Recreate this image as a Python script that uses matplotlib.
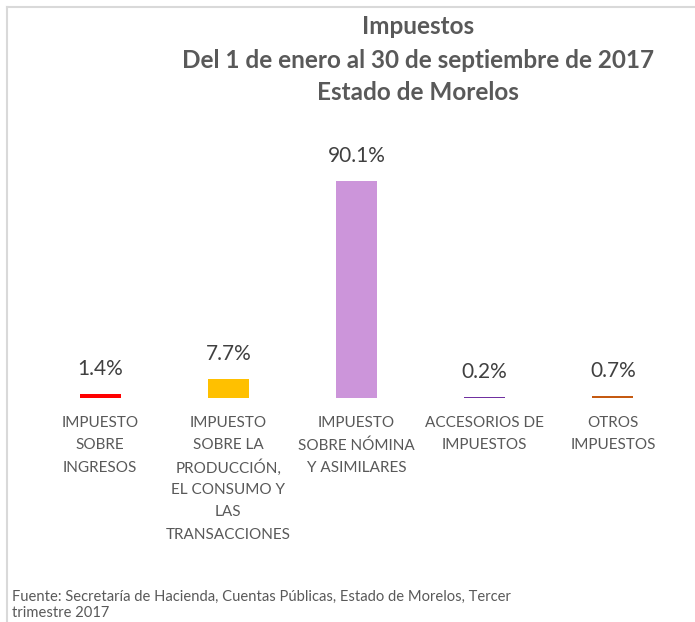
import matplotlib.pyplot as plt
from matplotlib.lines import Line2D
import numpy as np

plt.rcParams['font.family'] = ['Lato', 'DejaVu Sans']

# data
categories = ['IMPUESTO\nSOBRE\nINGRESOS',
              'IMPUESTO\nSOBRE LA\nPRODUCCIÓN,\nEL CONSUMO Y\nLAS\nTRANSACCIONES',
              'IMPUESTO\nSOBRE NÓMINA\nY ASIMILARES',
              'ACCESORIOS DE\nIMPUESTOS',
              'OTROS\nIMPUESTOS']
values = [1.4, 7.7, 90.1, 0.2, 0.7]
colors = ['#FF0000', '#FFC000', '#CC95DA', '#7030A0', '#C55A11']

title_lines = ['Impuestos', 'Del 1 de enero al 30 de septiembre de 2017', 'Estado de Morelos']
source = 'Fuente: Secretaría de Hacienda, Cuentas Públicas, Estado de Morelos, Tercer\ntrimestre 2017'

text_color = '#595959'

fig = plt.figure(figsize=(6.95, 6.22), dpi=100)
ax = fig.add_axes([36 / 695, (622 - 397.7) / 622, 641 / 695, 257.7 / 622])

x = np.arange(len(values))
bars = ax.bar(x, values, width=0.32, color=colors, linewidth=0)
ax.set_xlim(-0.5, len(values) - 0.5)
ax.set_ylim(0, 107.1)

for rect, v in zip(bars, values):
    ax.annotate(f'{v:.1f}%', xy=(rect.get_x() + rect.get_width() / 2, rect.get_height()),
                xytext=(0, 18), textcoords='offset points',
                ha='center', va='center', fontsize=15, color='#404040')

# category labels, one text per line so the spacing stays even
ax.set_xticks([])
for xi, cat in zip(x, categories):
    for i, line in enumerate(cat.split('\n')):
        ax.annotate(line, xy=(xi, 0), xycoords=ax.get_xaxis_transform(),
                    xytext=(0, -18.2 - 16.1 * i), textcoords='offset points',
                    ha='center', va='center', fontsize=11, color=text_color)
ax.set_yticks([])
for s in ax.spines.values():
    s.set_visible(False)

# title, one line at a time (33 px apart)
for i, line in enumerate(title_lines):
    fig.text(418 / 695, 1 - (27 + 33 * i) / 622, line, ha='center', va='center',
             fontsize=17.5, fontweight='bold', color=text_color)

fig.text(12 / 695, 1 - 605 / 622, source, ha='left', va='center',
         fontsize=10.6, color=text_color, linespacing=1.2)

# chart frame (top and left edges visible)
fig.add_artist(Line2D([6.5 / 695, 6.5 / 695], [0, 1 - 6.5 / 622],
                      transform=fig.transFigure, color='#D9D9D9', linewidth=1.5))
fig.add_artist(Line2D([6.5 / 695, 1], [1 - 6.5 / 622, 1 - 6.5 / 622],
                      transform=fig.transFigure, color='#D9D9D9', linewidth=1.5))

fig.savefig('out.png', dpi=100)
